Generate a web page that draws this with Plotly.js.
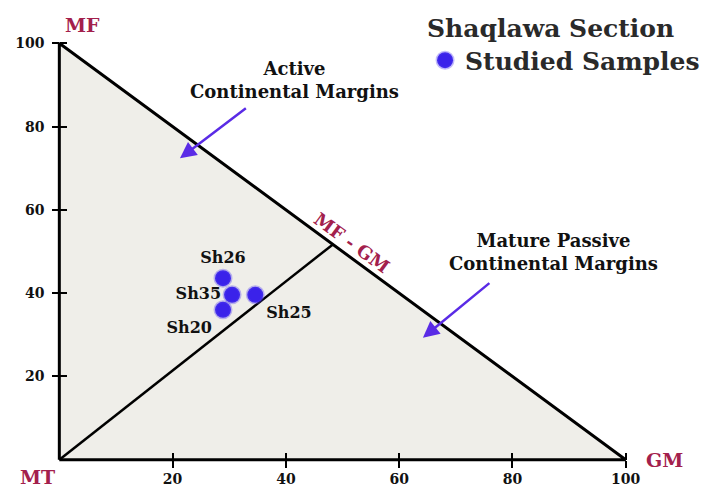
<!DOCTYPE html>
<html>
<head>
<meta charset="utf-8">
<script src="https://cdn.plot.ly/plotly-3.0.1.min.js"></script>
<style>
  body { margin: 0; background: #fff; }
  #chart { width: 718px; height: 492px; }
</style>
</head>
<body>
<div id="chart"></div>
<script>
// ternary-like field MT / MF / GM
const fieldX = [0, 0, 100, 0];
const fieldY = [0, 100, 0, 0];
const dividerX = [0, 48.3];
const dividerY = [0, 51.7];

const sampleNames = ["Sh26", "Sh35", "Sh25", "Sh20"];
const sampleX = [28.9, 30.5, 34.6, 28.9];
const sampleY = [43.6, 39.6, 39.6, 36.0];
const labelPos = ["top center", "middle left", "bottom right", "bottom left"];

const tickValues = [20, 40, 60, 80, 100];

const serif = "DejaVu Serif, Liberation Serif, serif";
const red = "#a3204c";
const arrowColor = "#5a2be6";
const range = [-2, 102];
const axisPos = 2 / 104;

const baseAxis = {
  range: range,
  anchor: "free",
  position: axisPos,
  showgrid: false,
  zeroline: false,
  showline: false,
  tickvals: tickValues,
  ticklen: 7,
  tickwidth: 2,
  tickcolor: "#000",
  fixedrange: true
};

const traces = [
  {
    x: fieldX, y: fieldY,
    mode: "lines",
    fill: "toself",
    fillcolor: "#efeee9",
    line: {color: "#000", width: 3},
    hoverinfo: "skip",
    showlegend: false
  },
  {
    x: dividerX, y: dividerY,
    mode: "lines",
    line: {color: "#000", width: 2.5},
    hoverinfo: "skip",
    showlegend: false
  },
  {
    x: sampleX, y: sampleY,
    text: sampleNames,
    mode: "markers+text",
    textposition: labelPos,
    textfont: {family: serif, size: 16, weight: "bold", color: "#111"},
    name: "Studied Samples",
    marker: {color: "#3a22ea", size: 16, line: {color: "rgba(80,60,240,0.35)", width: 3}},
    cliponaxis: false
  },
  {
    x: [], y: [],
    xaxis: "x2", yaxis: "y2",
    mode: "markers",
    showlegend: false,
    hoverinfo: "skip"
  }
];

const txt = (text, x, y, size, color, extra) => Object.assign({
  text: text, x: x, y: y, xref: "x", yref: "y",
  showarrow: false,
  font: {family: serif, size: size, weight: "bold", color: color}
}, extra || {});

// vertex names sit just outside the axes, so they use paper coordinates
const corner = (text, x, y) => ({
  text: text, x: x, y: y, xref: "paper", yref: "paper",
  xanchor: "center", yanchor: "middle",
  showarrow: false,
  font: {family: serif, size: 19, weight: "bold", color: red}
});

const layout = {
  width: 718,
  height: 492,
  margin: {l: 48, r: 81, t: 35, b: 24, autoexpand: false},
  paper_bgcolor: "#fff",
  plot_bgcolor: "#fff",
  font: {family: serif},
  xaxis: Object.assign({}, baseAxis, {
    ticks: "outside",
    tickfont: {family: serif, size: 14, weight: "bold", color: "#111"}
  }),
  yaxis: Object.assign({}, baseAxis, {
    ticks: "outside",
    ticklabelstandoff: 5,
    tickfont: {family: serif, size: 14, weight: "bold", color: "#111"}
  }),
  xaxis2: Object.assign({}, baseAxis, {overlaying: "x", ticks: "inside", showticklabels: false}),
  yaxis2: Object.assign({}, baseAxis, {overlaying: "y", ticks: "inside", showticklabels: false}),
  showlegend: true,
  legend: {
    xref: "container", yref: "container",
    x: 0.592, y: 0.99,
    xanchor: "left", yanchor: "top",
    bgcolor: "rgba(0,0,0,0)",
    title: {text: "Shaqlawa Section", font: {family: serif, size: 25, weight: "bold", color: "#2a2a2a"}},
    font: {family: serif, size: 25, weight: "bold", color: "#2a2a2a"},
    itemwidth: 30,
    tracegroupgap: 0
  },
  annotations: [
    corner("MF", 0.058, 1.023),
    corner("MT", -0.017, -0.021),
    corner("GM", 1.046, 0.018),
    txt("MF - GM", 51.6, 52.2, 18, red, {textangle: 36}),
    txt("Active<br>Continental Margins", 41.6, 91.3, 18, "#111"),
    txt("Mature Passive<br>Continental Margins", 87.3, 49.8, 18, "#111"),
    {
      x: 21.3, y: 72.4, ax: 33.2, ay: 84.7,
      xref: "x", yref: "y", axref: "x", ayref: "y",
      showarrow: true, arrowhead: 2, arrowsize: 1.3, arrowwidth: 2.5,
      arrowcolor: arrowColor, text: ""
    },
    {
      x: 64.2, y: 29.3, ax: 76.2, ay: 42.7,
      xref: "x", yref: "y", axref: "x", ayref: "y",
      showarrow: true, arrowhead: 2, arrowsize: 1.3, arrowwidth: 2.5,
      arrowcolor: arrowColor, text: ""
    }
  ]
};

Plotly.newPlot("chart", traces, layout, {displayModeBar: false, staticPlot: true});
</script>
</body>
</html>
